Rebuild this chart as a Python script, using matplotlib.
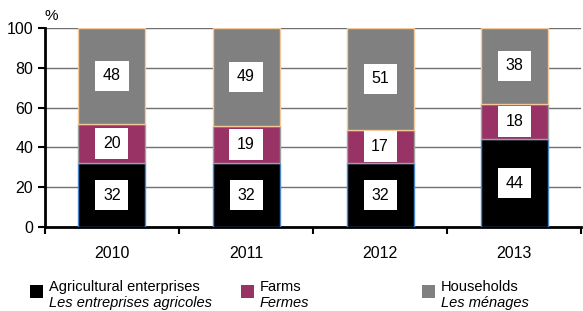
import numpy as np
import matplotlib.pyplot as plt
from matplotlib.patches import Rectangle

plt.rcParams['font.family'] = ['Liberation Sans', 'DejaVu Sans']

years = ['2010', '2011', '2012', '2013']
enterprises = [32, 32, 32, 44]
farms = [20, 19, 17, 18]
households = [48, 49, 51, 38]

names_en = ['Agricultural enterprises', 'Farms', 'Households']
names_fr = ['Les entreprises agricoles', 'Fermes', 'Les ménages']
colors = ['#000000', '#993366', '#808080']
edges = ['#4a86c8', '#a0a0a0', '#f5c89a']

fig = plt.figure(figsize=(5.83, 3.11), dpi=100)
ax = fig.add_axes([0.077, 0.27, 0.92, 0.64])

x = np.arange(len(years))
bottom = np.zeros(len(years))
for vals, c, e in zip([enterprises, farms, households], colors, edges):
    ax.bar(x, vals, 0.5, bottom=bottom, color=c, edgecolor=e, linewidth=1, zorder=3)
    for xi, b, v in zip(x, bottom, vals):
        ax.text(xi, b + v / 2, str(v), ha='center', va='center', fontsize=11.5, zorder=4,
                bbox=dict(facecolor='white', edgecolor='none', pad=5.5))
    bottom += np.array(vals)

ax.set_xlim(-0.5, len(years) - 0.5)
ax.set_ylim(0, 100)
ax.set_yticks(range(0, 101, 20))
ax.yaxis.grid(True, color='#707070', linewidth=1, zorder=0)
ax.set_xticks(x)
ax.set_xticklabels(years, fontsize=11.5)
ax.set_xticks(np.arange(-0.5, len(years)), minor=True)
ax.tick_params(axis='x', which='major', length=0, pad=14)
ax.tick_params(axis='x', which='minor', length=5, width=1.5, direction='out')
ax.tick_params(axis='y', length=5, width=1.5, labelsize=11.5)
for s in ['top', 'right']:
    ax.spines[s].set_visible(False)
ax.spines['left'].set_linewidth(2)
ax.spines['bottom'].set_linewidth(2)
ax.text(0.0, 1.04, '%', transform=ax.transAxes, fontsize=11)

# legend
lx = [30, 241, 422]
for i in range(3):
    fig.patches.append(Rectangle((lx[i] / 583, 1 - 298 / 311), 13 / 583, 13 / 311,
                                 transform=fig.transFigure, facecolor=colors[i], edgecolor='none'))
    fig.text((lx[i] + 19) / 583, 1 - 287 / 311, names_en[i], fontsize=10.5, va='center')
    fig.text((lx[i] + 19) / 583, 1 - 303 / 311, names_fr[i], fontsize=10.5, va='center', style='italic')

fig.savefig('out.png')
